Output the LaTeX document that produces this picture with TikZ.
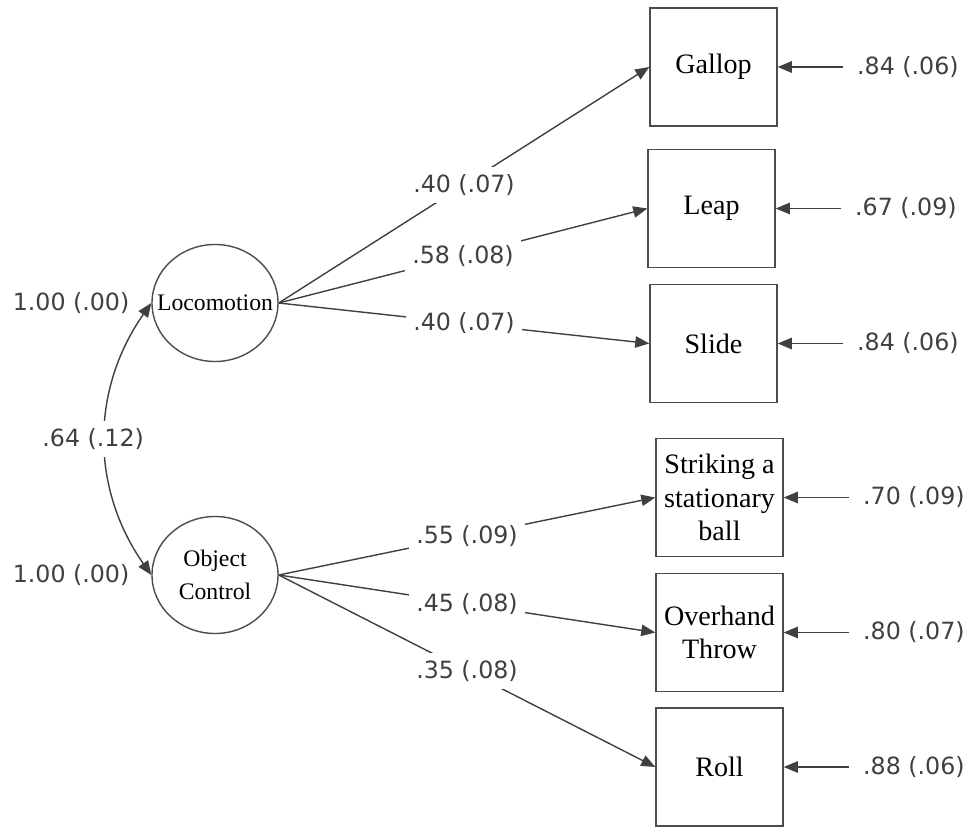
\documentclass[tikz,border=0pt]{standalone}
\usepackage{fontspec}
\setmainfont{Liberation Serif}
\newfontfamily\numfont{DejaVu Sans}
\usetikzlibrary{arrows.meta, positioning, shapes.geometric}

\begin{document}
\begin{tikzpicture}[
  latent/.style={draw=black!70, line width=0.8pt, ellipse, minimum width=2.52cm, minimum height=2.34cm, inner sep=0pt, label={[align=center, font=\fontsize{13.5}{19}\selectfont]center:#1}},
  obs/.style={draw=black!70, line width=0.8pt, rectangle, minimum width=2.54cm, minimum height=2.36cm, inner sep=1pt, align=center, font=\fontsize{16}{19}\selectfont},
  lbl/.style={font=\numfont\fontsize{13.5}{16}\selectfont, text=black!75, fill=white, inner sep=4pt},
  err/.style={font=\numfont\fontsize{13.5}{16}\selectfont, text=black!75, inner xsep=8pt, inner ysep=2pt},
  arr/.style={draw=black!75, line width=0.8pt, -{Triangle[length=8pt,width=6.5pt]}},
  cov/.style={arr, {Triangle[length=8pt,width=6.5pt]}-{Triangle[length=8pt,width=6.5pt]}},
]
\useasboundingbox (0,0) rectangle (19.38,16.54);

\node[latent={Locomotion}] (loco) at (4.30,10.48) {};
\node[latent={Object\\Control}] (obj) at (4.30,5.04) {};

\node[obs] (gallop) at (14.27,15.20) {Gallop};
\node[obs] (leap) at (14.23,12.37) {Leap};
\node[obs] (slide) at (14.27,9.67) {Slide};
\node[obs] (strike) at (14.39,6.59) {Striking a\\stationary\\ball};
\node[obs] (throw) at (14.39,3.89) {Overhand\\Throw};
\node[obs] (roll) at (14.39,1.20) {Roll};

\node[err, left=0.15cm of loco] (vloco) {1.00 (.00)};
\node[err, left=0.15cm of obj] (vobj) {1.00 (.00)};
\draw[cov] (loco.west) to[bend right=35] node[lbl, xshift=-0.25cm] {.64 (.12)} (obj.west);

\draw[arr] (loco.east) -- node[lbl] {.40 (.07)} (gallop.west);
\draw[arr] (loco.east) -- node[lbl] {.58 (.08)} (leap.west);
\draw[arr] (loco.east) -- node[lbl] {.40 (.07)} (slide.west);
\draw[arr] (obj.east) -- node[lbl] {.55 (.09)} (strike.west);
\draw[arr] (obj.east) -- node[lbl] {.45 (.08)} (throw.west);
\draw[arr] (obj.east) -- node[lbl] {.35 (.08)} (roll.west);

\node[err, right=1.3cm of gallop] (egallop) {.84 (.06)};
\node[err, right=1.3cm of leap] (eleap) {.67 (.09)};
\node[err, right=1.3cm of slide] (eslide) {.84 (.06)};
\node[err, right=1.3cm of strike] (estrike) {.70 (.09)};
\node[err, right=1.3cm of throw] (ethrow) {.80 (.07)};
\node[err, right=1.3cm of roll] (eroll) {.88 (.06)};

\draw[arr] (egallop) -- (gallop);
\draw[arr] (eleap) -- (leap);
\draw[arr] (eslide) -- (slide);
\draw[arr] (estrike) -- (strike);
\draw[arr] (ethrow) -- (throw);
\draw[arr] (eroll) -- (roll);
\end{tikzpicture}
\end{document}
